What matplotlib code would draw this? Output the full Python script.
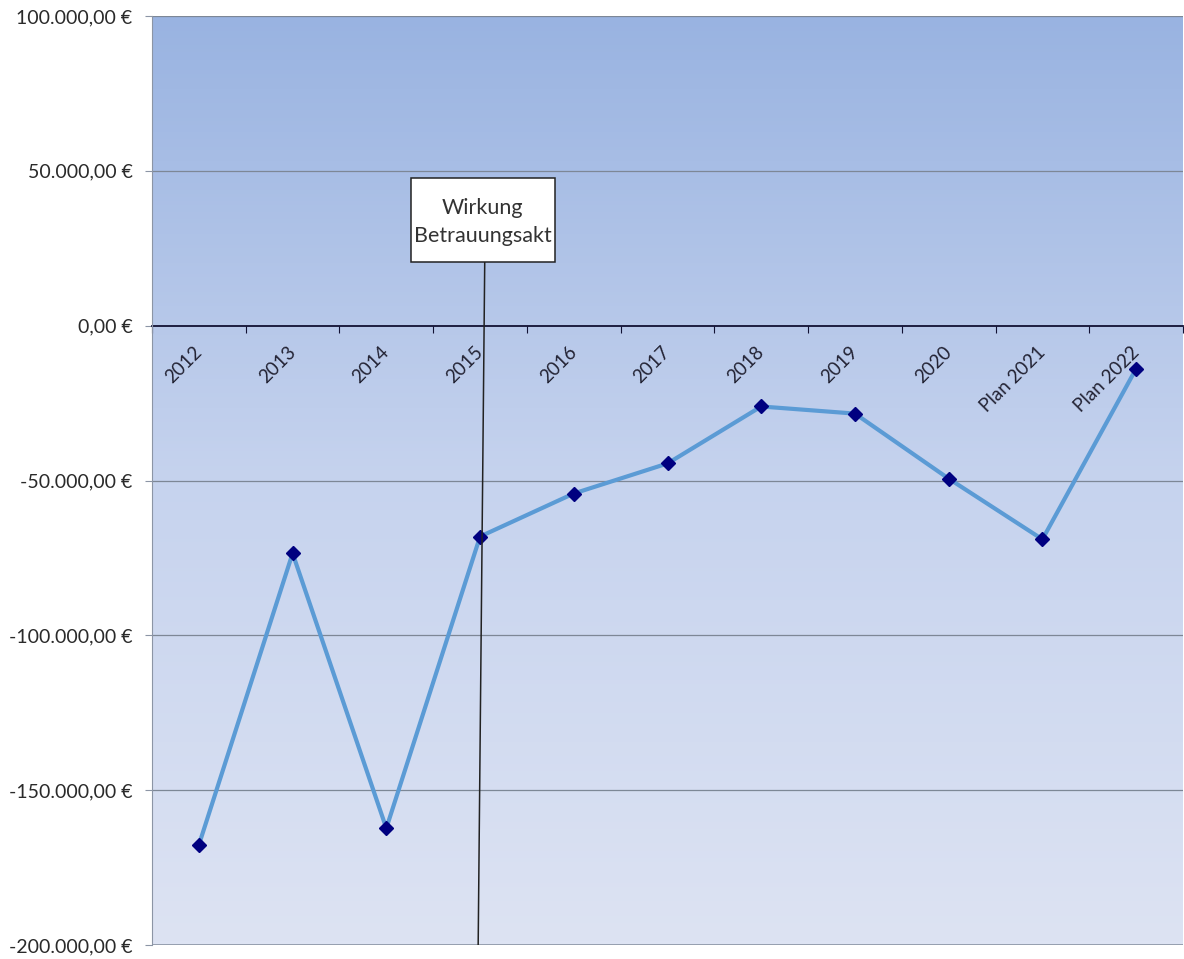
import matplotlib
matplotlib.use("Agg")
import matplotlib.pyplot as plt
import numpy as np
from matplotlib.colors import LinearSegmentedColormap
from matplotlib.patches import Rectangle
from matplotlib.ticker import FixedLocator, FuncFormatter

plt.rcParams['font.family'] = ['Lato', 'DejaVu Sans']

categories = ["2012", "2013", "2014", "2015", "2016", "2017", "2018",
              "2019", "2020", "Plan 2021", "Plan 2022"]
values = [-167700, -73500, -162300, -68100, -54200, -44500, -26100,
          -28400, -49400, -69000, -13900]
y_ticks = [100000, 50000, 0, -50000, -100000, -150000, -200000]
marker_label = "Wirkung\nBetrauungsakt"
marker_category = "2015"

W, H = 1184, 959
fig = plt.figure(figsize=(W / 100, H / 100), dpi=100)
ax = fig.add_axes([152 / W, 1 - 945 / H, (1183 - 152) / W, (945 - 16) / H])

n = len(categories)
xs = np.arange(n)
ax.set_xlim(-0.5, n - 0.5)
ax.set_ylim(-200000, 100000)

# vertical gradient background
cmap = LinearSegmentedColormap.from_list("bg", ["#dde3f3", "#c6d3ee", "#99b3e1"])
grad = np.linspace(0, 1, 256).reshape(-1, 1)
ax.imshow(grad, cmap=cmap, aspect="auto", origin="lower",
          extent=[-0.5, n - 0.5, -200000, 100000], zorder=0)

# horizontal gridlines
for t in y_ticks:
    if t != 0:
        ax.axhline(t, color="#7d8796", lw=0.9, zorder=1)

# series
ax.plot(xs, values, color="#5b9bd5", lw=3, zorder=3)
ax.plot(xs, values, linestyle="none", marker="D", ms=7.5,
        color="#000080", markeredgecolor="#000080", zorder=4)

# marker line and label box
mi = categories.index(marker_category)
box_bottom, box_top = 20600, 47800
ax.plot([mi + 0.05, mi - 0.02], [box_bottom, -200000], color="#222222", lw=1.1, zorder=5)
ax.add_patch(Rectangle((mi - 0.735, box_bottom), 1.53, box_top - box_bottom,
                       facecolor="white", edgecolor="#222222", lw=1.1, zorder=6))
ax.text(mi + 0.03, (box_bottom + box_top) / 2 - 700, marker_label, ha="center", va="center",
        fontsize=15.5, color="#333333", linespacing=1.45, zorder=7)

# axes styling
for side in ["top", "right"]:
    ax.spines[side].set_visible(False)
ax.spines["left"].set_color("#8c95a5")
ax.spines["bottom"].set_position(("data", 0))
ax.spines["bottom"].set_color("#111133")
ax.spines["bottom"].set_linewidth(1.3)
ax.spines["bottom"].set_zorder(2)

# bottom border of the plot area
ax.axhline(-200000, color="#8c95a5", lw=1.2, zorder=2)

ax.set_yticks(y_ticks)
ax.yaxis.set_major_formatter(FuncFormatter(
    lambda v, p: (f"{v:,.2f}".replace(",", "X").replace(".", ",").replace("X", ".")) + " €"))
ax.tick_params(axis="y", length=5, color="#8c95a5", labelsize=14,
               labelcolor="#2a2a2a", pad=9)

ax.xaxis.set_major_locator(FixedLocator(np.arange(-0.5, n, 1.0)))
ax.xaxis.set_major_formatter(FuncFormatter(lambda v, p: ""))
ax.xaxis.set_minor_locator(FixedLocator(xs))
ax.set_xticks(xs, minor=True)
ax.set_xticklabels(categories, minor=True, rotation=45, ha="right",
                   va="center", rotation_mode="anchor", fontsize=13.5,
                   color="#222233")
ax.tick_params(axis="x", which="major", length=5, color="#111133", direction="out")
ax.tick_params(axis="x", which="minor", length=0, pad=17)
for lbl in ax.xaxis.get_minorticklabels():
    lbl.set_zorder(8)

fig.savefig("out.png", dpi=100)
